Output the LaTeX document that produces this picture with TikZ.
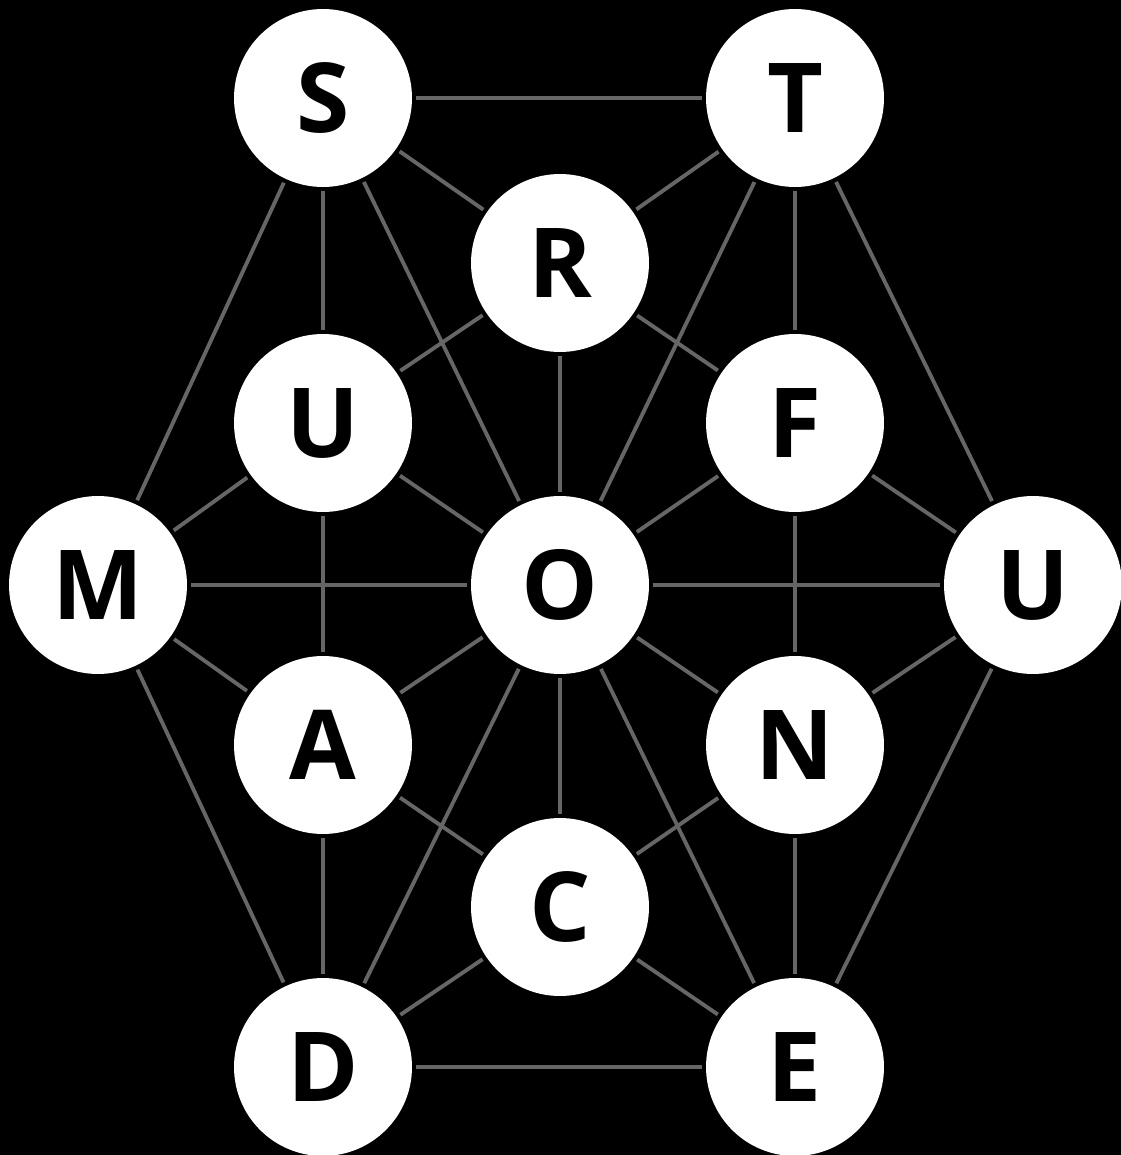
\documentclass[tikz,border=0pt]{standalone}
\usepackage{fontspec}
\setmainfont{Open Sans}
\usepackage{xcolor}
\definecolor{edgegray}{HTML}{666666}

\begin{document}
\begin{tikzpicture}[x=0.02cm,y=-0.02cm,
  letter/.style={circle,fill=white,minimum size=3.56cm,inner sep=0pt,outer sep=2.5pt,
    font=\fontsize{55}{55}\selectfont\bfseries},
  link/.style={draw=edgegray,line width=2.2pt}]
\fill[black] (0,0) rectangle (1121,1155);
\useasboundingbox (0,0) rectangle (1121,1155);
% nodes
\node[letter] (s) at (323,98) {S};
\node[letter] (t) at (795,98) {T};
\node[letter] (r) at (560,263) {R};
\node[letter] (ul) at (323,423) {U};
\node[letter] (f) at (795,423) {F};
\node[letter] (m) at (98,585) {M};
\node[letter] (o) at (560,585) {O};
\node[letter] (ur) at (1033,585) {U};
\node[letter] (a) at (323,745) {A};
\node[letter] (n) at (795,745) {N};
\node[letter] (c) at (560,907) {C};
\node[letter] (d) at (323,1067) {D};
\node[letter] (e) at (795,1067) {E};
% edges
\begin{scope}[on background layer/.style={}]
\foreach \p/\q in {s/t,s/r,t/r,s/ul,s/m,s/o,t/f,t/o,t/ur,r/ul,r/f,r/o,
  ul/m,ul/o,ul/a,f/o,f/ur,f/n,m/o,m/a,m/d,o/ur,o/a,o/n,o/c,o/d,o/e,
  ur/n,ur/e,a/c,a/d,n/c,n/e,c/d,c/e,d/e}
  \draw[link] (\p) -- (\q);
\end{scope}
\end{tikzpicture}
\end{document}
